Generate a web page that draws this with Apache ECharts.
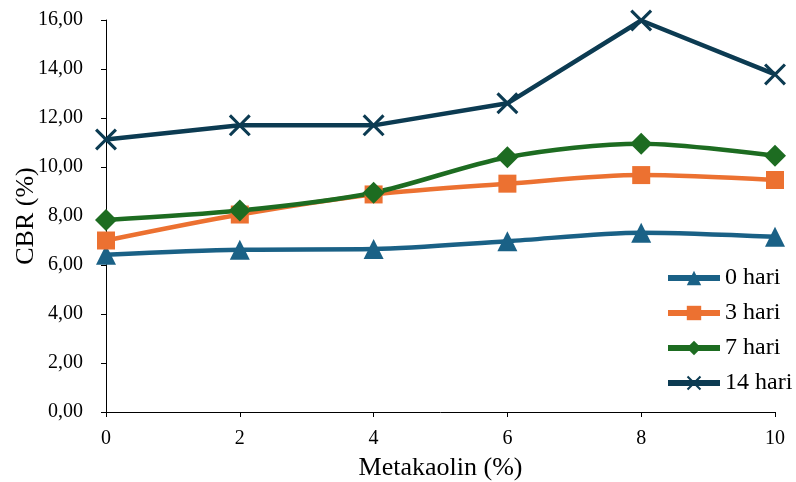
<!DOCTYPE html>
<html>
<head>
<meta charset="utf-8">
<script src="https://cdn.jsdelivr.net/npm/echarts@6/dist/echarts.min.js"></script>
<style>html,body{margin:0;padding:0;background:#fff}#c{width:796px;height:482px}</style>
</head>
<body>
<div id="c"></div>
<script>
const xValues = [0, 2, 4, 6, 8, 10];
const hari0 = [6.42, 6.62, 6.65, 6.97, 7.32, 7.15];
const hari3 = [7.00, 8.06, 8.88, 9.32, 9.67, 9.47];
const hari7 = [7.84, 8.22, 8.95, 10.40, 10.95, 10.46];
const hari14 = [11.12, 11.70, 11.70, 12.60, 15.98, 13.78];
const seriesNames = ['0 hari', '3 hari', '7 hari', '14 hari'];

const font = '"Liberation Serif", "Times New Roman", serif';
const xSym = 'path://M0,1L1,0L5,4L9,0L10,1L6,5L10,9L9,10L5,6L1,10L0,9L4,5Z';

function pts(arr){ return xValues.map((x,i)=>[x, arr[i]]); }

const defs = [
  {name: seriesNames[0], data: hari0, color: '#1A6186', symbol: 'triangle', size: 20, smooth: 0.3},
  {name: seriesNames[1], data: hari3, color: '#EC7131', symbol: 'rect', size: 18, smooth: 0.3},
  {name: seriesNames[2], data: hari7, color: '#1D6C21', symbol: 'diamond', size: 22, smooth: 0.3},
  {name: seriesNames[3], data: hari14, color: '#0C3B52', symbol: xSym, size: 22, smooth: false}
];

const chart = echarts.init(document.getElementById('c'));
chart.setOption({
  animation: false,
  backgroundColor: '#fff',
  grid: {left: 106, right: 21, top: 20, bottom: 70, containLabel: false, outerBoundsMode: 'none'},
  legend: {
    orient: 'vertical', left: 660, top: 261,
    itemWidth: 52, itemHeight: 18, itemGap: 11,
    lineStyle: {width: 6},
    textStyle: {fontFamily: font, fontSize: 24, color: '#000'},
    data: seriesNames
  },
  xAxis: {
    type: 'value', min: 0, max: 10, interval: 2,
    name: 'Metakaolin (%)', nameLocation: 'middle', nameGap: 43, nameMoveOverlap: false,
    nameTextStyle: {fontFamily: font, fontSize: 26, color: '#000'},
    axisLine: {show: true, lineStyle: {color: '#000', width: 1}},
    axisTick: {show: true, inside: false, length: 5, lineStyle: {color: '#000'}},
    axisLabel: {fontFamily: font, fontSize: 20, color: '#000', margin: 17},
    splitLine: {show: false}
  },
  yAxis: {
    type: 'value', min: 0, max: 16, interval: 2,
    name: 'CBR (%)', nameLocation: 'middle', nameGap: 67, nameMoveOverlap: false,
    nameTextStyle: {fontFamily: font, fontSize: 26, color: '#000'},
    axisLine: {show: true, lineStyle: {color: '#000', width: 1}},
    axisTick: {show: true, length: 5, lineStyle: {color: '#000'}},
    axisLabel: {fontFamily: font, fontSize: 20, color: '#000', margin: 23,
      formatter: v => v.toFixed(2).replace('.', ',')},
    splitLine: {show: false}
  },
  series: defs.map(d => ({
    name: d.name, type: 'line', data: pts(d.data),
    smooth: d.smooth, symbol: d.symbol, symbolSize: d.size,
    lineStyle: {color: d.color, width: 4.5},
    itemStyle: {color: d.color},
    z: 2
  }))
});
</script>
</body>
</html>
